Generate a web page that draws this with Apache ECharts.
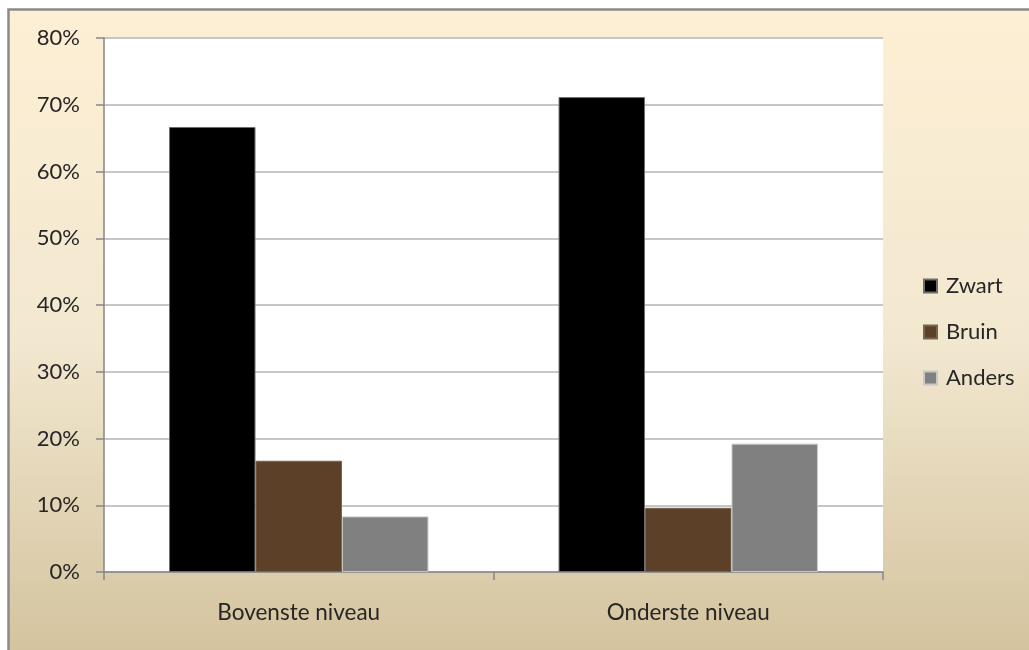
<!DOCTYPE html>
<html>
<head>
<meta charset="utf-8">
<script src="https://cdn.jsdelivr.net/npm/echarts@6/dist/echarts.min.js"></script>
<style>
  html, body { margin: 0; padding: 0; background: #ffffff; }
  #chart { width: 1029px; height: 650px; }
</style>
</head>
<body>
<div id="chart"></div>
<script>
// Share of colour per level (percent)
const categories = ['Bovenste niveau', 'Onderste niveau'];
const zwart = [66.67, 71.15];
const bruin = [16.67, 9.62];
const anders = [8.33, 19.23];
const yTicks = { min: 0, max: 80, interval: 10 };

const font = 'Lato, "Open Sans", sans-serif';
const textColor = '#262626';

const chart = echarts.init(document.getElementById('chart'), null, { renderer: 'canvas' });

function barSeries(name, data, color, border) {
  return {
    name: name,
    type: 'bar',
    data: data,
    barGap: '0%',
    barCategoryGap: '33.4%',
    itemStyle: { color: color, borderColor: border, borderWidth: 1 },
    emphasis: { disabled: true }
  };
}

chart.setOption({
  animation: false,
  backgroundColor: '#ffffff',
  textStyle: { fontFamily: font },
  graphic: [{
    type: 'rect',
    z: -10,
    silent: true,
    shape: { x: 8.5, y: 9.5, width: 1040, height: 660 },
    style: {
      fill: new echarts.graphic.LinearGradient(0, 0, 0, 1, [
        { offset: 0, color: '#fdefd4' },
        { offset: 0.5, color: '#f2e8d0' },
        { offset: 1, color: '#d2c19b' }
      ]),
      stroke: '#8a8a8a',
      lineWidth: 2.5
    }
  }],
  grid: {
    left: 104, top: 38, right: 146, bottom: 78,
    show: true, backgroundColor: '#ffffff', borderWidth: 0
  },
  legend: {
    orient: 'vertical',
    left: 918,
    top: 270,
    itemWidth: 13,
    itemHeight: 13,
    itemGap: 24,
    icon: 'rect',
    textStyle: { fontFamily: font, fontSize: 22, lineHeight: 20, color: textColor, padding: [0, 0, 0, 4] },
    data: ['Zwart', 'Bruin', 'Anders']
  },
  xAxis: {
    type: 'category',
    data: categories,
    axisLine: { lineStyle: { color: '#868686', width: 1.5 } },
    axisTick: { show: true, length: 8, lineStyle: { color: '#868686', width: 1.5 } },
    axisLabel: { margin: 29, fontFamily: font, fontSize: 22.5, color: textColor }
  },
  yAxis: {
    type: 'value',
    min: yTicks.min,
    max: yTicks.max,
    interval: yTicks.interval,
    axisLine: { show: true, lineStyle: { color: '#868686', width: 1.5 } },
    axisTick: { show: true, length: 8, lineStyle: { color: '#868686', width: 1.5 } },
    axisLabel: { margin: 24, fontFamily: font, fontSize: 22, color: textColor, formatter: '{value}%' },
    splitLine: { show: true, lineStyle: { color: '#b3b3b3', width: 1.5 } }
  },
  series: [
    barSeries('Zwart', zwart, '#000000', '#6e6e6e'),
    barSeries('Bruin', bruin, '#5c4128', '#7a6550'),
    barSeries('Anders', anders, '#808080', '#c8c8c8')
  ]
});
</script>
</body>
</html>
